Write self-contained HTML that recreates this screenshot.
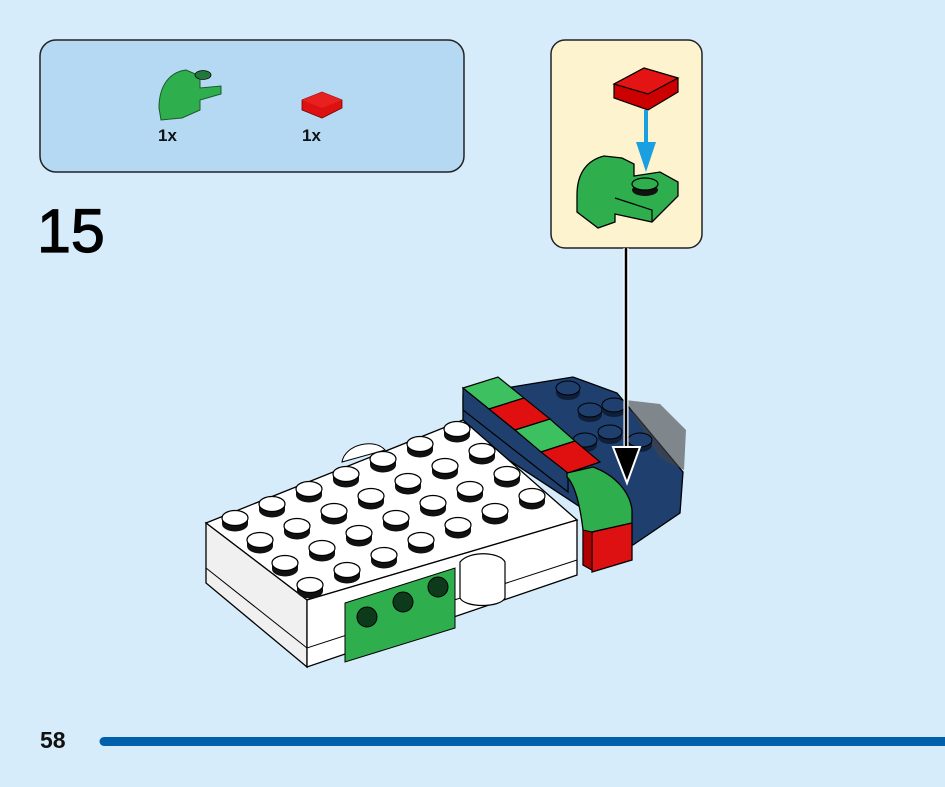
<!DOCTYPE html>
<html><head><meta charset="utf-8"><style>
html,body{margin:0;padding:0;background:#d6ecfb;}
body{width:945px;height:787px;position:relative;overflow:hidden;font-family:"Liberation Sans",sans-serif;}
</style></head><body>
<svg width="945" height="787" viewBox="0 0 945 787" xmlns="http://www.w3.org/2000/svg" style="position:absolute;left:0;top:0">
<defs>
<g id="s"><ellipse cx="0" cy="6" rx="13" ry="7.5" fill="#111"/><rect x="-13" y="0" width="26" height="6" fill="#111"/><ellipse cx="0" cy="0" rx="13" ry="7.5" fill="#fff" stroke="#000" stroke-width="1.2"/></g>
<g id="n"><ellipse cx="0" cy="5" rx="12" ry="7" fill="#0f1f3a"/><rect x="-12" y="0" width="24" height="5" fill="#0f1f3a"/><ellipse cx="0" cy="0" rx="12" ry="7" fill="#1f3f6e" stroke="#000" stroke-width="1"/></g>
</defs>
<!-- parts box -->
<rect x="40" y="40" width="424" height="132" rx="16" fill="#b5d8f3" stroke="#222" stroke-width="1.5"/>
<path d="M159,108 C159,85 170,72 186,70 L200,76 L200,88 L221,86 L221,94 L200,100 L200,110 L182,118 L161,120 Z" fill="#2fae4e" stroke="#1a5a2a" stroke-width="1"/>
<ellipse cx="203" cy="75" rx="8" ry="4.5" fill="#1f7a3a" stroke="#000" stroke-width="0.8"/>
<path d="M302,100 L322,92 L342,100 L342,108 L322,118 L302,110 Z" fill="#dd1111" stroke="#7a0000" stroke-width="0.8"/>
<path d="M302,100 L322,92 L342,100 L322,108 Z" fill="#e82020"/>
<text x="158" y="141" font-size="17" font-weight="bold" fill="#111">1x</text>
<text x="302" y="141" font-size="17" font-weight="bold" fill="#111">1x</text>
<text x="37" y="252" font-size="61" fill="#000" stroke="#000" stroke-width="1.2">15</text>
<!-- callout -->
<rect x="551" y="40" width="151" height="208" rx="14" fill="#fdf4cf" stroke="#222" stroke-width="1.5"/>
<path d="M614,84 L644,68 L678,78 L678,92 L648,110 L614,98 Z" fill="#cc0000" stroke="#000" stroke-width="1.2"/>
<path d="M614,84 L644,68 L678,78 L648,94 Z" fill="#e51414" stroke="#000" stroke-width="1.2"/>
<line x1="646" y1="110" x2="646" y2="150" stroke="#1aa0e0" stroke-width="4"/>
<path d="M636,142 L656,142 L646,172 Z" fill="#1aa0e0"/>
<path d="M577,195 C577,172 588,160 604,156 L622,158 L634,164 L634,176 L660,172 L678,182 L678,196 L652,222 L615,214 L615,222 L598,228 L577,212 Z" fill="#2fae4e" stroke="#000" stroke-width="1.3"/>
<path d="M615,198 L652,210 L652,222" fill="none" stroke="#000" stroke-width="1.2"/>
<ellipse cx="645" cy="190" rx="13" ry="6" fill="#111"/>
<ellipse cx="645" cy="184" rx="13" ry="6" fill="#2fae4e" stroke="#000" stroke-width="1.2"/>
<!-- navy back -->
<path d="M463,395 L573,377 L617,393 L683,472 L680,513 L633,545 L600,520 L463,430 Z" fill="#1f3f6e" stroke="#000" stroke-width="1.3"/>
<path d="M625,400 L660,404 L686,430 L684,470 L660,458 Z" fill="#444" opacity="0.6"/>
<use href="#n" x="568" y="388"/><use href="#n" x="590" y="410"/><use href="#n" x="614" y="405"/><use href="#n" x="610" y="432"/><use href="#n" x="640" y="440"/><use href="#n" x="585" y="440"/>
<!-- white base -->
<path d="M206,523 L463,420 L577,520 L307,600 Z" fill="#fff" stroke="#000" stroke-width="1.3"/>
<path d="M206,523 L307,600 L307,667 L206,583 Z" fill="#f0f0f0" stroke="#000" stroke-width="1.3"/>
<path d="M307,600 L577,520 L577,575 L307,667 Z" fill="#fff" stroke="#000" stroke-width="1.3"/>
<path d="M206,568 L307,648 L577,560" fill="none" stroke="#000" stroke-width="1"/>
<path d="M345,603 L455,568 L455,628 L345,662 Z" fill="#2fae4e" stroke="#000" stroke-width="1"/>
<circle cx="367" cy="617" r="10" fill="#0e3a1c" stroke="#000"/><circle cx="403" cy="602" r="10" fill="#0e3a1c" stroke="#000"/><circle cx="438" cy="587" r="10" fill="#0e3a1c" stroke="#000"/>
<path d="M460,562 C470,550 500,552 505,562 L505,598 C500,608 465,608 460,598 Z" fill="#fff" stroke="#000" stroke-width="1.2"/>
<path d="M342,462 C345,444 375,438 385,450 Z" fill="#fff" stroke="#000"/>
<g>
<use href="#s" x="235" y="518"/><use href="#s" x="272" y="504"/><use href="#s" x="309" y="489"/><use href="#s" x="346" y="474"/><use href="#s" x="383" y="459"/><use href="#s" x="420" y="444"/><use href="#s" x="457" y="429"/>
<use href="#s" x="260" y="540"/><use href="#s" x="297" y="526"/><use href="#s" x="334" y="511"/><use href="#s" x="371" y="496"/><use href="#s" x="408" y="481"/><use href="#s" x="445" y="466"/><use href="#s" x="482" y="451"/>
<use href="#s" x="285" y="563"/><use href="#s" x="322" y="548"/><use href="#s" x="359" y="533"/><use href="#s" x="396" y="518"/><use href="#s" x="433" y="503"/><use href="#s" x="470" y="489"/><use href="#s" x="507" y="474"/>
<use href="#s" x="310" y="585"/><use href="#s" x="347" y="570"/><use href="#s" x="384" y="555"/><use href="#s" x="421" y="540"/><use href="#s" x="458" y="525"/><use href="#s" x="495" y="511"/><use href="#s" x="532" y="496"/>
</g>
<!-- stripe -->
<path d="M463,388 L463,410 L568,492 L568,473 Z" fill="#1f3f6e" stroke="#000" stroke-width="1.2"/>
<path d="M463,388 L498,377 L524,398 L489,409 Z" fill="#3cc060" stroke="#000" stroke-width="1.2"/>
<path d="M489,409 L524,398 L550,419 L515,430 Z" fill="#e01010" stroke="#000" stroke-width="1.2"/>
<path d="M515,430 L550,419 L575,441 L541,452 Z" fill="#3cc060" stroke="#000" stroke-width="1.2"/>
<path d="M541,452 L575,441 L600,462 L568,473 Z" fill="#e01010" stroke="#000" stroke-width="1.2"/>
<path d="M567,473 L593,467 C615,475 630,492 632,510 L632,523 L592,532 L592,570 L583,565 L583,530 C580,505 575,485 567,477 Z" fill="#2fae4e" stroke="#000" stroke-width="1.3"/>
<path d="M592,532 L632,523 L632,560 L592,572 Z" fill="#dd1111" stroke="#000" stroke-width="1.3"/>
<path d="M583,530 L592,532 L592,570 L583,565 Z" fill="#b00000" stroke="#000" stroke-width="1"/>
<!-- arrow -->
<line x1="626" y1="248" x2="626" y2="452" stroke="#fff" stroke-width="5"/>
<line x1="626" y1="248" x2="626" y2="452" stroke="#000" stroke-width="2.5"/>
<path d="M613,447 L640,447 L627,483 Z" fill="#000" stroke="#fff" stroke-width="2"/>
<!-- footer -->
<line x1="104" y1="741.5" x2="950" y2="741.5" stroke="#0060ac" stroke-width="9" stroke-linecap="round"/>
<text x="40" y="748" font-size="23" font-weight="bold" fill="#111">58</text>
</svg>
</body></html>
